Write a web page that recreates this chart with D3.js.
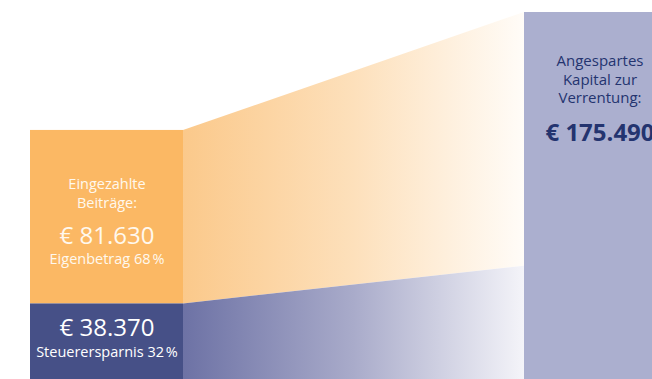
<!DOCTYPE html>
<html>
<head>
<meta charset="utf-8">
<script src="https://cdn.jsdelivr.net/npm/d3@7"></script>
<style>
  html, body { margin: 0; padding: 0; background: #fff; overflow: hidden; }
  svg { display: block; }
</style>
</head>
<body>
<svg id="chart" width="652" height="379"></svg>
<script>
// Contributions (left stack) and the resulting capital (right bar)
const segments = ["Eigenbetrag", "Steuerersparnis"];
const contributions = [81630, 38370];
const shares = [68, 32];
const capitalTotal = 175490;

const leftTitle = ["Eingezahlte", "Beiträge:"];
const rightTitle = ["Angespartes", "Kapital zur", "Verrentung:"];

const fmt = v => "€ " + d3.format(",")(v).replace(/,/g, ".");
const pct = v => v + "\u202F%";

const svg = d3.select("#chart");
const font = "'Open Sans', 'Noto Sans', sans-serif";

// vertical value scale shared by both bars
const y = d3.scaleLinear().domain([0, capitalTotal]).range([385, 12]);
// horizontal placement of the two bars
const x = d3.scaleOrdinal().domain(["left", "right"]).range([30, 524]);
const bw = 153;
const xl = x("left"), xr = x("right");

// stacked contributions
const own = contributions[0], tax = contributions[1];
const total = own + tax;
const taxTop = y(tax), totalTop = y(total);

// split of the final capital in the same proportion
const capSplit = capitalTotal * tax / total;
const capSplitY = y(capSplit);

const defs = svg.append("defs");
const gOrange = defs.append("linearGradient").attr("id", "gOrange").attr("x1", "0").attr("x2", "1").attr("y1", "0").attr("y2", "0");
gOrange.append("stop").attr("offset", "0").attr("stop-color", "#fbc98b");
gOrange.append("stop").attr("offset", "0.5").attr("stop-color", "#fde0bb");
gOrange.append("stop").attr("offset", "1").attr("stop-color", "#fffcf8");
const gNavy = defs.append("linearGradient").attr("id", "gNavy").attr("x1", "0").attr("x2", "1").attr("y1", "0").attr("y2", "0");
gNavy.append("stop").attr("offset", "0").attr("stop-color", "#6d72a5");
gNavy.append("stop").attr("offset", "0.5").attr("stop-color", "#a9abca");
gNavy.append("stop").attr("offset", "1").attr("stop-color", "#f4f4f9");

const line = d3.line();
const xs = xl + bw, xe = xr;

// connecting bands
svg.append("path")
  .attr("d", line([[xs, totalTop], [xe, y(capitalTotal)], [xe, capSplitY], [xs, taxTop]]) + "Z")
  .attr("fill", "url(#gOrange)");
svg.append("path")
  .attr("d", line([[xs, taxTop], [xe, capSplitY], [xe, y(0)], [xs, y(0)]]) + "Z")
  .attr("fill", "url(#gNavy)");

// left stacked bar
svg.append("rect").attr("x", xl).attr("y", totalTop).attr("width", bw).attr("height", taxTop - totalTop).attr("fill", "#fbb864");
svg.append("rect").attr("x", xl).attr("y", taxTop).attr("width", bw).attr("height", y(0) - taxTop).attr("fill", "#465087");

// right bar
svg.append("rect").attr("x", xr).attr("y", y(capitalTotal)).attr("width", bw).attr("height", y(0) - y(capitalTotal)).attr("fill", "#abafcf");

// labels on the left bar
const cl = xl + bw / 2 + 0.5;
const lt = svg.append("g").attr("fill", "#fff8ee").attr("font-family", font).attr("text-anchor", "middle");
leftTitle.forEach((t, i) => {
  lt.append("text").attr("x", cl).attr("y", 189 + i * 18.5).attr("font-size", 14.5).text(t);
});
lt.append("text").attr("x", cl).attr("y", 244).attr("font-size", 24).text(fmt(own));
lt.append("text").attr("x", cl).attr("y", 264).attr("font-size", 14.5).text(segments[0] + " " + pct(shares[0]));
lt.append("text").attr("x", cl).attr("y", 336).attr("font-size", 24).attr("fill", "#fff").text(fmt(tax));
lt.append("text").attr("x", cl).attr("y", 357).attr("font-size", 14.5).attr("fill", "#fff").text(segments[1] + " " + pct(shares[1]));

// labels on the right bar
const cr = xr + 76;
const rt = svg.append("g").attr("fill", "#24346f").attr("font-family", font).attr("text-anchor", "middle");
rightTitle.forEach((t, i) => {
  rt.append("text").attr("x", cr).attr("y", 66 + i * 18.5).attr("font-size", 15).text(t);
});
rt.append("text").attr("x", cr).attr("y", 141).attr("font-size", 24).attr("font-weight", "bold").text(fmt(capitalTotal));
</script>
</body>
</html>
